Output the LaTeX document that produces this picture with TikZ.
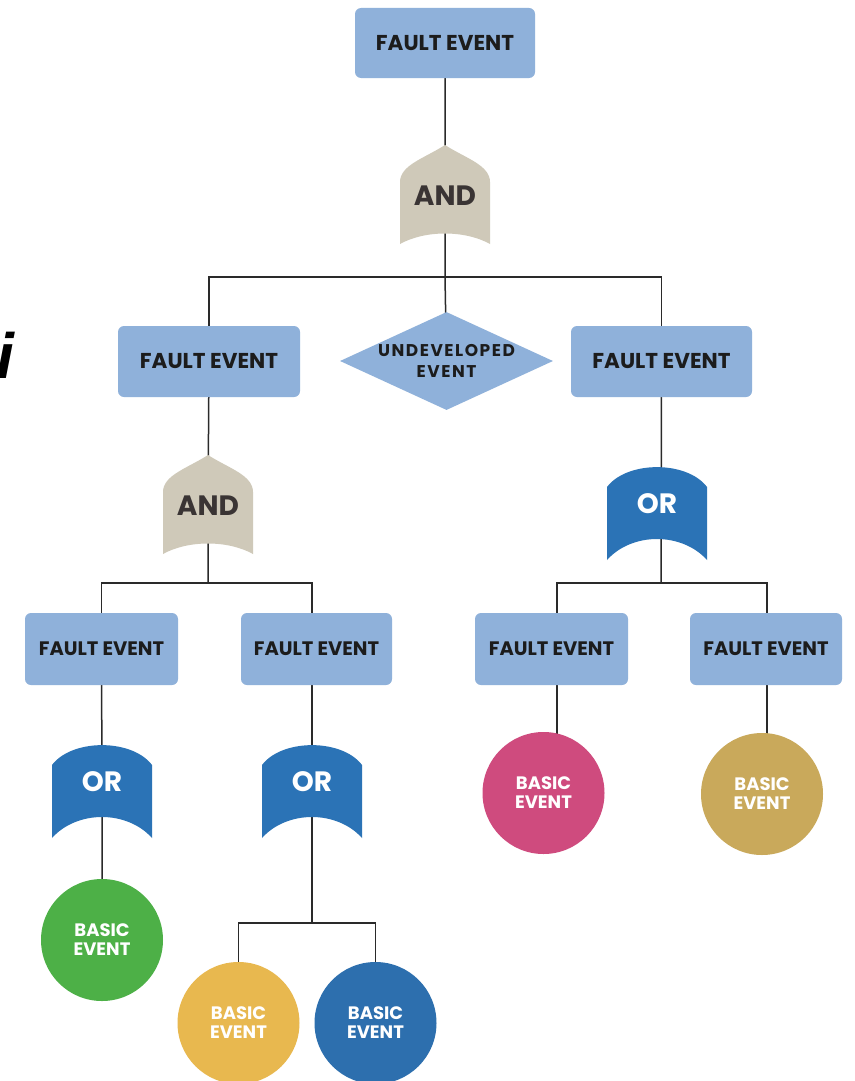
\documentclass[tikz,border=0pt]{standalone}
\usepackage{fontspec}
\setmainfont{Poppins}
\newfontfamily\ifont{Liberation Sans}
\usetikzlibrary{shapes.geometric,backgrounds,calc}
\definecolor{boxc}{HTML}{8FB1DA}
\definecolor{andc}{HTML}{CFC9B9}
\definecolor{orc}{HTML}{2B73B6}
\definecolor{txtc}{HTML}{1C1C1C}
\definecolor{andtxt}{HTML}{3A3434}
\definecolor{greenc}{HTML}{4DB047}
\definecolor{yellowc}{HTML}{E8B84F}
\definecolor{bluec}{HTML}{2D6FAE}
\definecolor{pinkc}{HTML}{CF4B7E}
\definecolor{tanc}{HTML}{C9A95B}
\definecolor{linec}{HTML}{2A2A2A}
\tikzset{
  faultbox/.style={rectangle, rounded corners=6pt, fill=boxc, minimum width=#1, minimum height=71pt, inner sep=0pt, text=txtc},
  faultbox/.default=181pt,
  bigtxt/.style={font=\bfseries\fontsize{21.5}{24}\selectfont},
  smalltxt/.style={font=\bfseries\fontsize{19.5}{22}\selectfont},
  basic/.style={circle, minimum size=122pt, inner sep=0pt, text=white, align=center, font=\bfseries\fontsize{18}{19}\selectfont},
  gatebox/.style={rectangle, inner sep=0pt, minimum width=#1},
  andtext/.style={font=\bfseries\fontsize{28}{30}\selectfont, text=andtxt},
  ortext/.style={font=\bfseries\fontsize{28}{30}\selectfont, text=white},
  conn/.style={draw=linec, line width=1.5pt}
}
% AND gate: name, x, apex y
\newcommand\myandgate[3]{%
  \fill[andc] (#2-45,#3+99) -- (#2-45,#3+37) .. controls (#2-45,#3+20) and (#2-20,#3+13) .. (#2,#3)
     .. controls (#2+20,#3+13) and (#2+45,#3+20) .. (#2+45,#3+37) -- (#2+45,#3+99)
     .. controls (#2+20,#3+85) and (#2-20,#3+85) .. cycle;
  \node[gatebox=90pt, minimum height=99pt, andtext] (#1) at (#2,#3+51) {AND};
}
% OR gate: name, x, top y
\newcommand\myorgate[3]{%
  \fill[orc] (#2-50,#3+20) .. controls (#2-30,#3-6.5) and (#2+30,#3-6.5) .. (#2+50,#3+20)
     -- (#2+50,#3+93) .. controls (#2+25,#3+65) and (#2-25,#3+65) .. (#2-50,#3+93) -- cycle;
  \node[gatebox=100pt, minimum height=93pt, label={[ortext, yshift=10pt]center:OR}] (#1) at (#2,#3+46.5) {};
}
\begin{document}
\begin{tikzpicture}[x=1pt,y=-1pt]
\useasboundingbox (0,0) rectangle (854,1081);
\clip (0,0) rectangle (854,1081);

% stray letter at left edge
\node[font=\ifont\bfseries\itshape\fontsize{64}{70}\selectfont, anchor=base east, inner sep=0pt] (ichar) at (14,378) {i};

% boxes
\node[faultbox=180pt, minimum height=70pt, bigtxt] (top) at (445,43) {FAULT EVENT};
\myandgate{a1}{445}{145}
\node[faultbox=182pt, bigtxt] (f2) at (209,361.5) {FAULT EVENT};
\node[diamond, fill=boxc, shape aspect=2.17, minimum width=213pt, minimum height=98pt, inner sep=0pt, text=txtc, align=center, font=\bfseries\fontsize{17}{20.5}\selectfont\addfontfeatures{LetterSpace=9}] (u) at (446.5,361) {UNDEVELOPED\\EVENT};
\node[faultbox=181pt, bigtxt] (f3) at (661.5,361.5) {FAULT EVENT};

\myandgate{a2}{208}{455}
\myorgate{o3}{657}{467}

\node[faultbox=153pt, minimum height=72pt, smalltxt] (f4) at (101.5,649) {FAULT EVENT};
\node[faultbox=151pt, minimum height=72pt, smalltxt] (f5) at (316.5,649) {FAULT EVENT};
\node[faultbox=153pt, minimum height=72pt, smalltxt] (f6) at (551.5,649) {FAULT EVENT};
\node[faultbox=152pt, minimum height=72pt, smalltxt] (f7) at (766,649) {FAULT EVENT};

\myorgate{o1}{102}{745}
\myorgate{o2}{312}{745}

\node[basic, fill=greenc] (g) at (102,940) {BASIC\\EVENT};
\node[basic, fill=yellowc] (y) at (238.5,1023) {BASIC\\EVENT};
\node[basic, fill=bluec] (b) at (375.5,1023) {BASIC\\EVENT};
\node[basic, fill=pinkc] (p) at (543.5,793) {BASIC\\EVENT};
\node[basic, fill=tanc] (t) at (762,794) {BASIC\\EVENT};

\coordinate (j1) at (445,277);
\coordinate (j2) at (208,583);
\coordinate (j3) at (661,583);
\coordinate (k6) at (557,583);
\coordinate (k7) at (767,583);
\coordinate (j4) at (312,923);

\begin{scope}[on background layer]
  \fill[white] (0,0) rectangle (854,1081);
  \draw[conn] (top.center) -- (a1.center) -- (j1) -- (u.center);
  \draw[conn] (f2.center) |- (j1) -| (f3.center);
  \draw[conn] (f2.center) -- (a2.center) -- (j2);
  \draw[conn] (f4.center) |- (j2) -| (o2.center);
  \draw[conn] (f4.center) -- (o1.center) -- (g.center);
  \draw[conn] (o2.center) -- (j4);
  \draw[conn] (y.center) |- (j4) -| (b.center);
  \draw[conn] (f3.center) -- (j3);
  \draw[conn] (k6 |- p.center) -- (k6) -- (k7) -- (k7 |- t.center);
\end{scope}
\end{tikzpicture}
\end{document}
